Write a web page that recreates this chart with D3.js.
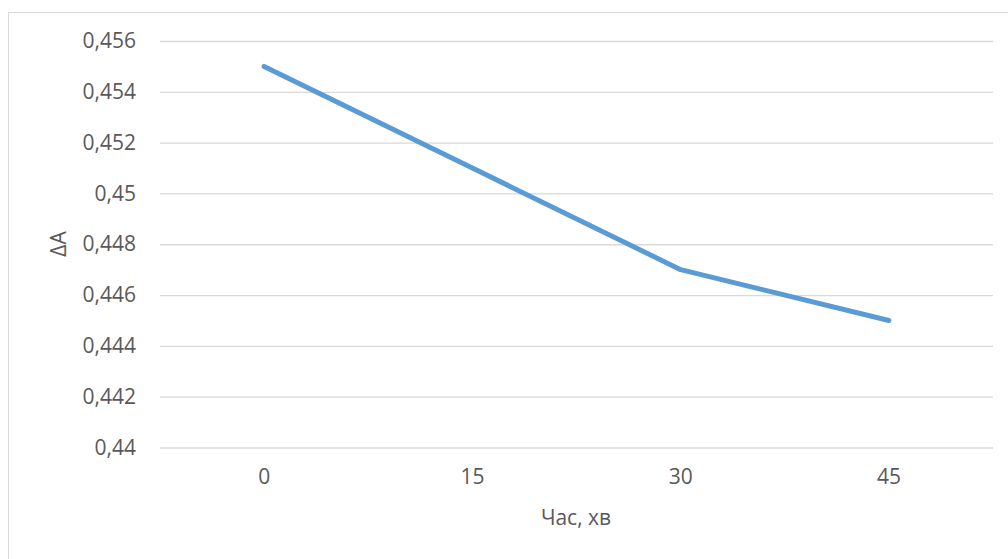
<!DOCTYPE html>
<html>
<head>
<meta charset="utf-8">
<script src="https://cdn.jsdelivr.net/npm/d3@7"></script>
<style>
  html, body { margin: 0; padding: 0; background: #fff; }
  svg { display: block; }
  text { font-family: "Open Sans", sans-serif; fill: #595959; }
</style>
</head>
<body>
<svg id="chart" width="1008" height="559"></svg>
<script>
const categories = ["0", "15", "30", "45"];
const values = [0.455, 0.451, 0.447, 0.445];
const yTicks = [0.44, 0.442, 0.444, 0.446, 0.448, 0.45, 0.452, 0.454, 0.456];
const xTitle = "Час, хв";
const yTitle = "ΔA";

const svg = d3.select("#chart");

// chart area border (right/bottom fall outside the window)
svg.append("rect")
  .attr("x", 8.5).attr("y", 12.5)
  .attr("width", 1010).attr("height", 560)
  .attr("fill", "#fff").attr("stroke", "#D9D9D9").attr("stroke-width", 1);

const plot = { left: 160, right: 993, top: 41, bottom: 447.5 };

const x = d3.scaleBand().domain(categories).range([plot.left, plot.right]).padding(0);
const y = d3.scaleLinear().domain([0.44, 0.456]).range([plot.bottom, plot.top]);

const fmt = v => {
  let s = d3.format(".3f")(v).replace(/0+$/, "").replace(/\.$/, "");
  return s.replace(".", ",");
};

const FS = 21;

// gridlines + y labels
const yAxis = d3.axisLeft(y).tickValues(yTicks).tickSize(-(plot.right - plot.left)).tickFormat(fmt).tickPadding(24);
const gy = svg.append("g").attr("transform", `translate(${plot.left},0)`).call(yAxis);
gy.select(".domain").remove();
gy.selectAll(".tick line").attr("stroke", "#D9D9D9").attr("stroke-width", 1.3);
gy.selectAll(".tick text")
  .attr("font-family", "Open Sans, sans-serif")
  .attr("font-size", FS).attr("fill", "#595959");

// x axis labels
const xAxis = d3.axisBottom(x).tickSize(0).tickPadding(22);
const gx = svg.append("g").attr("transform", `translate(0,${plot.bottom})`).call(xAxis);
gx.select(".domain").remove();
gx.selectAll(".tick text")
  .attr("font-family", "Open Sans, sans-serif")
  .attr("font-size", FS).attr("fill", "#595959");

// line
const line = d3.line()
  .x((d, i) => x(categories[i]) + x.bandwidth() / 2)
  .y(d => y(d));
svg.append("path")
  .datum(values)
  .attr("d", line)
  .attr("fill", "none")
  .attr("stroke", "#5B9BD5")
  .attr("stroke-width", 5)
  .attr("stroke-linecap", "round")
  .attr("stroke-linejoin", "round");

// axis titles
svg.append("text")
  .attr("x", 576).attr("y", 525)
  .attr("text-anchor", "middle")
  .attr("font-size", FS)
  .text(xTitle);

svg.append("text")
  .attr("transform", "translate(66,244) rotate(-90)")
  .attr("text-anchor", "middle")
  .attr("font-size", FS)
  .text(yTitle);
</script>
</body>
</html>
